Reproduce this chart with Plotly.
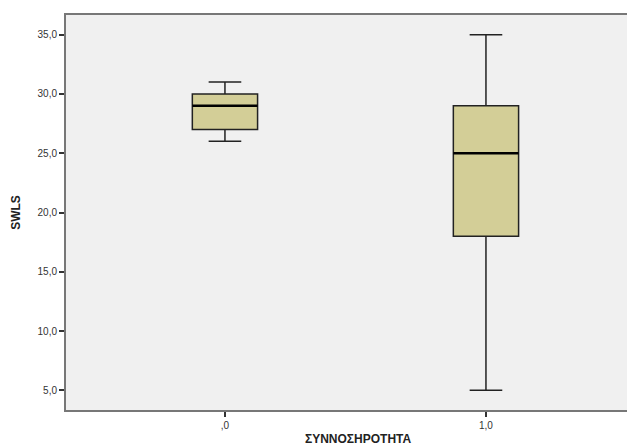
import plotly.graph_objects as go

categories = [0.0, 1.0]
tick_labels = [",0", "1,0"]
lower_whisker = [26.0, 5.0]
q1_values = [27.0, 18.0]
median_values = [29.0, 25.0]
q3_values = [30.0, 29.0]
upper_whisker = [31.0, 35.0]
y_ticks = [5, 10, 15, 20, 25, 30, 35]

box_w = 0.25

fig = go.Figure()
fig.add_trace(go.Box(
    x=categories,
    q1=q1_values, median=median_values, q3=q3_values,
    lowerfence=lower_whisker, upperfence=upper_whisker,
    width=box_w, whiskerwidth=0.5,
    fillcolor="#D3CE97",
    line=dict(color="#222222", width=1.5),
    boxpoints=False, hoverinfo="skip", showlegend=False,
))
for c, m in zip(categories, median_values):
    fig.add_trace(go.Scatter(
        x=[c - box_w / 2, c + box_w / 2], y=[m, m], mode="lines",
        line=dict(color="#000000", width=2.5), showlegend=False, hoverinfo="skip",
    ))

# page body has an 8px default margin, so the figure is sized/offset to compensate
fig.update_layout(
    width=627, height=440,
    margin=dict(l=58, r=0, t=7, b=38, autoexpand=False),
    paper_bgcolor="white", plot_bgcolor="#F0F0F0",
    separators=",.",
    font=dict(family="Arial, Liberation Sans, sans-serif", size=10, color="#333333"),
    xaxis=dict(
        range=[-0.609, 1.571], tickvals=categories, ticktext=tick_labels,
        ticks="outside", ticklen=5, tickcolor="#333333", tickwidth=1.5,
        showline=True, linecolor="#777777", linewidth=2, mirror=True,
        showgrid=False, zeroline=False, automargin=False,
    ),
    yaxis=dict(
        range=[3.34, 36.66], tickvals=y_ticks, tickformat=".1f",
        ticks="outside", ticklen=5, tickcolor="#333333", tickwidth=1.5,
        showline=True, linecolor="#777777", linewidth=2,
        showgrid=False, zeroline=False, automargin=False,
        title=dict(text="<b>SWLS</b>", font=dict(size=12, color="#222222"), standoff=14),
    ),
    annotations=[dict(
        text="<b>ΣΥΝΝΟΣΗΡΟΤΗΤΑ</b>", xref="paper", yref="paper",
        x=(350 - 58) / (627 - 58), y=0, yshift=-29, xanchor="center", yanchor="middle",
        showarrow=False, font=dict(size=12, color="#222222"),
    )],
)

fig.write_html("out.html")
